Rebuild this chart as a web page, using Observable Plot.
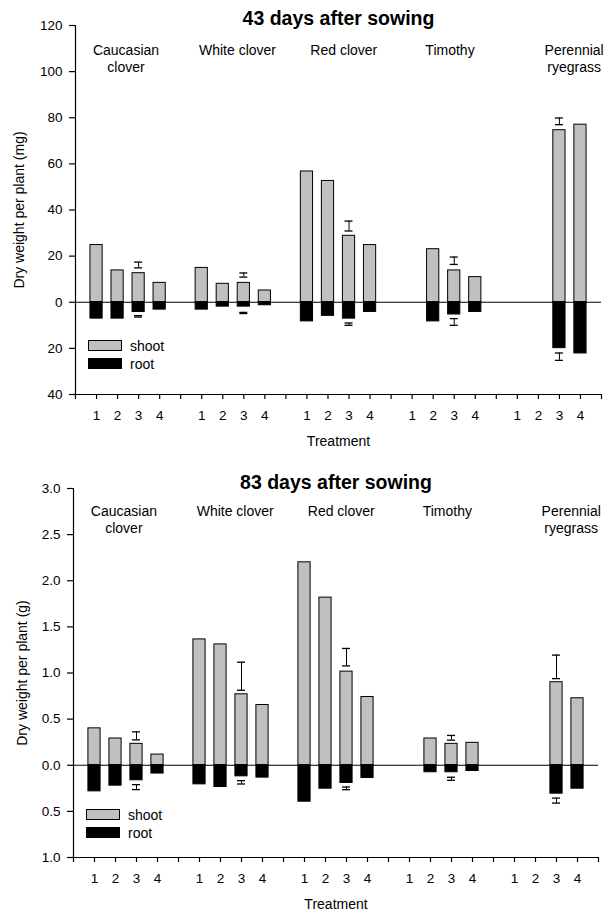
<!DOCTYPE html>
<html><head><meta charset="utf-8">
<script src="https://cdn.jsdelivr.net/npm/d3@7"></script>
<script src="https://cdn.jsdelivr.net/npm/@observablehq/plot@0.6"></script>
<style>
body{margin:0;background:#fff;}
#wrap{position:relative;width:611px;height:913px;font-family:"Liberation Sans",Arial,sans-serif;color:#000;}
.panel{position:absolute;left:0;}
.ylab{position:absolute;font-size:14px;white-space:nowrap;transform:translate(-50%,-50%) rotate(-90deg);}
.leg{position:absolute;font-size:14px;}
.sw{position:absolute;box-sizing:border-box;border:1px solid #000;}
.lt{position:absolute;transform:translateY(-50%);white-space:nowrap;}
</style></head><body><div id="wrap"></div>
<script>
// ---- data ----
const groups = ["Caucasian\nclover", "White clover", "Red clover", "Timothy", "Perennial\nryegrass"];
const treatmentLabels = ["1", "2", "3", "4"];
const errTreatment = 3;
const seriesNames = ["shoot", "root"];

// 43 days (mg)
const shoot43 = [[24.8, 13.8, 12.6, 8.4], [14.9, 8.0, 8.4, 5.1], [56.7, 52.6, 28.8, 24.8], [null, 23.0, 13.8, 10.9], [null, null, 74.6, 77.0]];
const root43  = [[7.1, 7.1, 4.2, 3.2], [3.2, 1.9, 1.9, 1.3], [8.3, 5.9, 7.1, 4.2], [null, 8.3, 5.3, 4.2], [null, null, 19.9, 22.2]];
const shootErr43 = [[14.9, 17.4], [10.9, 12.7], [30.9, 35.2], [16.4, 19.6], [77.0, 79.9]];
const rootErr43  = [[5.8, 6.4], [4.4, 4.9], [9.0, 10.0], [7.1, 10.0], [22.0, 25.2]];

// 83 days (g)
const shoot83 = [[0.40, 0.29, 0.232, 0.116], [1.364, 1.31, 0.769, 0.653], [2.20, 1.817, 1.015, 0.74], [null, 0.29, 0.232, 0.243], [null, null, 0.90, 0.726]];
const root83  = [[0.283, 0.221, 0.163, 0.09], [0.207, 0.236, 0.12, 0.134], [0.395, 0.254, 0.192, 0.138], [null, 0.076, 0.076, 0.062], [null, null, 0.308, 0.254]];
const shootErr83 = [[0.275, 0.362], [0.813, 1.117], [1.077, 1.266], [0.272, 0.323], [0.939, 1.194]];
const rootErr83  = [[0.21, 0.264], [0.167, 0.203], [0.236, 0.265], [0.13, 0.163], [0.356, 0.41]];

const yTicks43 = [-40, -20, 0, 20, 40, 60, 80, 100, 120];
const yTicks83 = [-1, -0.5, 0, 0.5, 1, 1.5, 2, 2.5, 3];
const groupLabelSlot = [2.4, 7.7, 12.75, 17.8, 23.7];

// ---- drawing ----
const FONT = '"Liberation Sans", Arial, sans-serif';
const wrap = document.getElementById("wrap");
const nSlots = groups.length * (treatmentLabels.length + 1);
const slotOf = (gi, ti) => gi * (treatmentLabels.length + 1) + ti + 1;

function panel(o) {
  const rows = [];
  groups.forEach((g, gi) => treatmentLabels.forEach((t, ti) => {
    if (o.shoot[gi][ti] != null) rows.push({slot: slotOf(gi, ti), shoot: o.shoot[gi][ti], root: o.root[gi][ti]});
  }));
  const errs = [];
  groups.forEach((g, gi) => {
    const s = slotOf(gi, errTreatment - 1);
    errs.push({slot: s, lo: o.shootErr[gi][0], hi: o.shootErr[gi][1]});
    errs.push({slot: s, lo: -o.rootErr[gi][0], hi: -o.rootErr[gi][1]});
  });
  const caps = errs.flatMap(e => [{slot: e.slot, v: e.lo}, {slot: e.slot, v: e.hi}]);
  const labels = groups.map((g, gi) => ({x: groupLabelSlot[gi], text: g}));
  const hw = 0.29, cw = 0.19;
  const ticks = d3.range(0, nSlots + 1);
  const svg = Plot.plot({
    width: 611, height: o.height,
    marginTop: o.mt, marginBottom: o.mb, marginLeft: o.ml, marginRight: o.mr,
    style: {fontFamily: FONT, fontSize: "13.5px", color: "#000", background: "#fff"},
    x: {domain: [0, nSlots]},
    y: {domain: [o.yTicks[0], o.yTicks[o.yTicks.length - 1]]},
    marks: [
      Plot.rectY(rows, {x1: d => d.slot - hw, x2: d => d.slot + hw, y1: 0, y2: "shoot", fill: "#c0c0c0", stroke: "#000", strokeWidth: 1}),
      Plot.rectY(rows, {x1: d => d.slot - hw, x2: d => d.slot + hw, y1: 0, y2: d => -d.root, fill: "#000", stroke: "#000", strokeWidth: 1}),
      Plot.ruleY([0], {stroke: "#000"}),
      Plot.ruleX(errs, {x: "slot", y1: "lo", y2: "hi", stroke: "#000", strokeWidth: 1}),
      Plot.ruleY(caps, {y: "v", x1: d => d.slot - cw, x2: d => d.slot + cw, stroke: "#000", strokeWidth: 1.3}),
      Plot.ruleX([0], {stroke: "#000", strokeWidth: 1.2}),
      Plot.ruleY([o.yTicks[0]], {stroke: "#000", strokeWidth: 1.2}),
      Plot.axisY({ticks: o.yTicks, tickSize: 6, tickPadding: 7, tickFormat: o.fmt, label: null, fontSize: 13.5, strokeWidth: 1.2}),
      Plot.axisX({ticks, tickSize: 5, tickPadding: 11, label: null, fontSize: 13.5, strokeWidth: 1.2,
        tickFormat: d => { const k = d % (treatmentLabels.length + 1); return k === 0 ? "" : treatmentLabels[k - 1]; }}),
      Plot.text(labels, {x: "x", text: "text", frameAnchor: "top", dy: o.labDy, lineAnchor: "top", lineHeight: 1.18, fontSize: 14}),
      Plot.text([o.title], {frameAnchor: "top", dy: o.titleDy, lineAnchor: "middle", fontSize: 19.5, fontWeight: "bold"}),
      Plot.text(["Treatment"], {frameAnchor: "bottom", dy: o.xlabDy, lineAnchor: "middle", fontSize: 14})
    ]
  });
  const div = document.createElement("div");
  div.className = "panel";
  div.style.top = o.top + "px";
  div.appendChild(svg);
  wrap.appendChild(div);

  const yl = document.createElement("div");
  yl.className = "ylab";
  yl.textContent = o.ylabel;
  yl.style.left = o.ylabX + "px";
  yl.style.top = (o.top + o.mt + (o.height - o.mt - o.mb) / 2) + "px";
  wrap.appendChild(yl);

  // legend
  const fills = ["#c0c0c0", "#000"];
  seriesNames.forEach((name, i) => {
    const sw = document.createElement("div");
    sw.className = "sw";
    sw.style.left = o.legX + "px";
    sw.style.top = (o.legY + i * 18) + "px";
    sw.style.width = "34px"; sw.style.height = "11px";
    sw.style.background = fills[i];
    wrap.appendChild(sw);
    const t = document.createElement("div");
    t.className = "lt leg";
    t.textContent = name;
    t.style.left = (o.legX + 42) + "px";
    t.style.top = (o.legY + i * 18 + 5.5) + "px";
    wrap.appendChild(t);
  });
}

panel({
  top: 0, height: 456, mt: 25, mb: 62, ml: 75, mr: 10,
  shoot: shoot43, root: root43, shootErr: shootErr43, rootErr: rootErr43,
  yTicks: yTicks43, fmt: d => String(Math.abs(d)),
  title: "43 days after sowing", ylabel: "Dry weight per plant (mg)",
  titleDy: -7, labDy: 18, xlabDy: 47, ylabX: 19, legX: 88, legY: 340
});
panel({
  top: 456, height: 457, mt: 32, mb: 56, ml: 73, mr: 13,
  shoot: shoot83, root: root83, shootErr: shootErr83, rootErr: rootErr83,
  yTicks: yTicks83, fmt: d => Math.abs(d).toFixed(1),
  title: "83 days after sowing", ylabel: "Dry weight per plant (g)",
  titleDy: -6, labDy: 16, xlabDy: 47.5, ylabX: 21.5, legX: 86, legY: 809
});
</script></body></html>
